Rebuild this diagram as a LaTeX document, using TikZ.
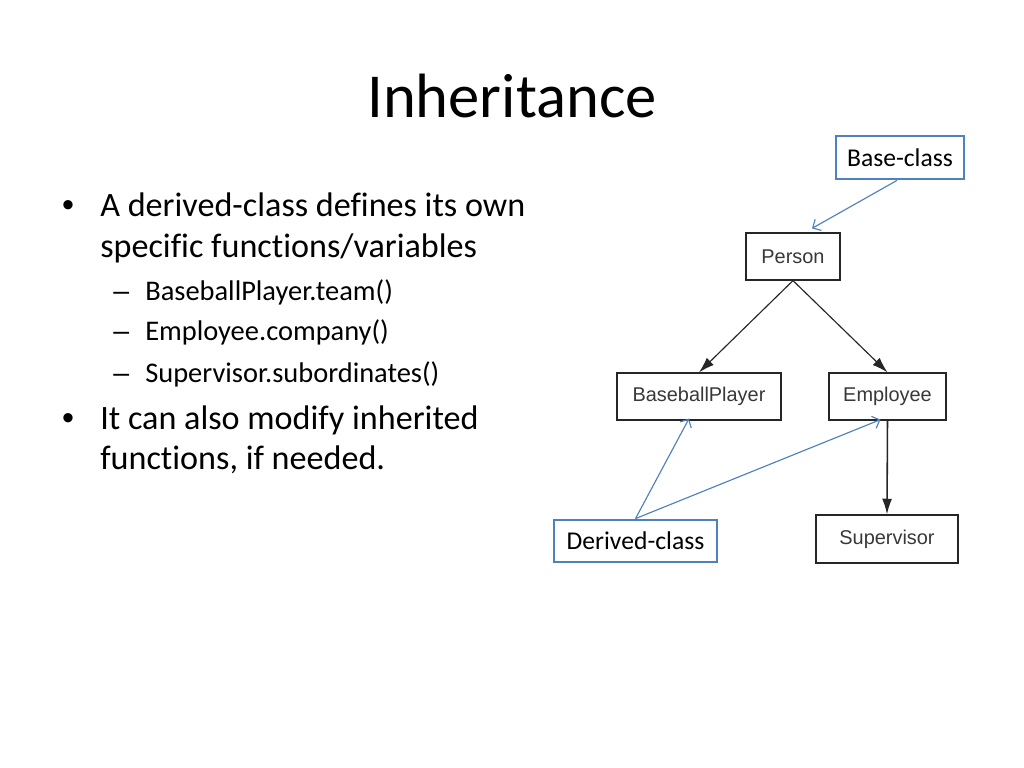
\documentclass[tikz,border=0pt]{standalone}
\usepackage{fontspec}
\setmainfont{Carlito}[Ligatures=NoCommon]
\newfontfamily\umlfont{Liberation Sans}
\usetikzlibrary{arrows.meta,calc}
\definecolor{accent}{HTML}{4F81BD}
\begin{document}
\begin{tikzpicture}[x=0.703pt,y=-0.703pt,
  umlbox/.style={draw=black!85, line width=0.9pt, inner sep=0pt, fill=white,
    font=\umlfont\fontsize{14}{16}\selectfont, text=black!78},
  callout/.style={draw=accent, line width=2pt, inner sep=0pt, fill=white,
    font=\fontsize{18}{21}\selectfont},
  inh/.style={draw=black!85, line width=0.8pt, -{Latex[length=11pt,width=7pt]}},
  pointer/.style={draw=accent, line width=0.8pt, -{Straight Barb[length=4.5pt,width=9pt]}},
  txt/.style={anchor=base west, inner sep=0pt},
  bul/.style={anchor=base, inner sep=0pt, font=\umlfont\fontsize{24}{29}\selectfont},
  dsh/.style={anchor=base west, inner sep=0pt, font=\umlfont\fontsize{20}{24}\selectfont}
]
\fill[white] (0,0) rectangle (1024,768);
\useasboundingbox (0,0) rectangle (1024,768);

% title
\node[anchor=base, inner sep=0pt, font=\fontsize{44}{53}\selectfont] (title) at (512,117) {Inheritance};

% bullets
\begin{scope}[font=\fontsize{24}{29}\selectfont]
\node[bul] (b1) at (68,216.5) {•};
\node[txt] (t1a) at (100,216.5) {A derived-class defines its own};
\node[txt] (t1b) at (100,257) {specific functions/variables};
\node[bul] (b2) at (68,429) {•};
\node[txt] (t2a) at (100,429) {It can also modify inherited};
\node[txt] (t2b) at (100,469) {functions, if needed.};
\end{scope}
\begin{scope}[font=\fontsize{20}{24}\selectfont]
\node[dsh] (d1) at (113,300.5) {–};
\node[txt] (s1) at (145,300.5) {BaseballPlayer.team()};
\node[dsh] (d2) at (113,340.5) {–};
\node[txt] (s2) at (145,340.5) {Employee.company()};
\node[dsh] (d3) at (113,382) {–};
\node[txt] (s3) at (145,382) {Supervisor.subordinates()};
\end{scope}

% diagram boxes
\node[callout, minimum width=90pt, minimum height=30.2pt] (base) at (900,157.5) {Base-class};
\node[umlbox, minimum width=66.1pt, minimum height=33pt] (person) at (793,256.5) {Person};
\node[umlbox, minimum width=115.3pt, minimum height=33pt] (bp) at (699,396.5) {BaseballPlayer};
\node[umlbox, minimum width=82.3pt, minimum height=33pt] (emp) at (887.5,396.5) {Employee};
\node[umlbox, minimum width=99.8pt, minimum height=33.7pt] (sup) at (887,539) {Supervisor};
\node[callout, minimum width=114.6pt, minimum height=29.5pt] (der) at (635.5,541) {Derived-class};

% inheritance arrows
\draw[inh] (person.south) -- (bp.north);
\draw[inh] (person.south) -- (emp.north);
\draw[inh, line width=1.1pt] (emp.south) -- (sup.north);

% callout pointers
\draw[pointer] ($(base.south)+(-3,0)$) -- ($(person.north)+(19,-4)$);
\draw[pointer] (der.north) -- ($(bp.south)+(-10,-2)$);
\draw[pointer] (der.north) -- ($(emp.south)+(-7,-1)$);
\end{tikzpicture}
\end{document}
